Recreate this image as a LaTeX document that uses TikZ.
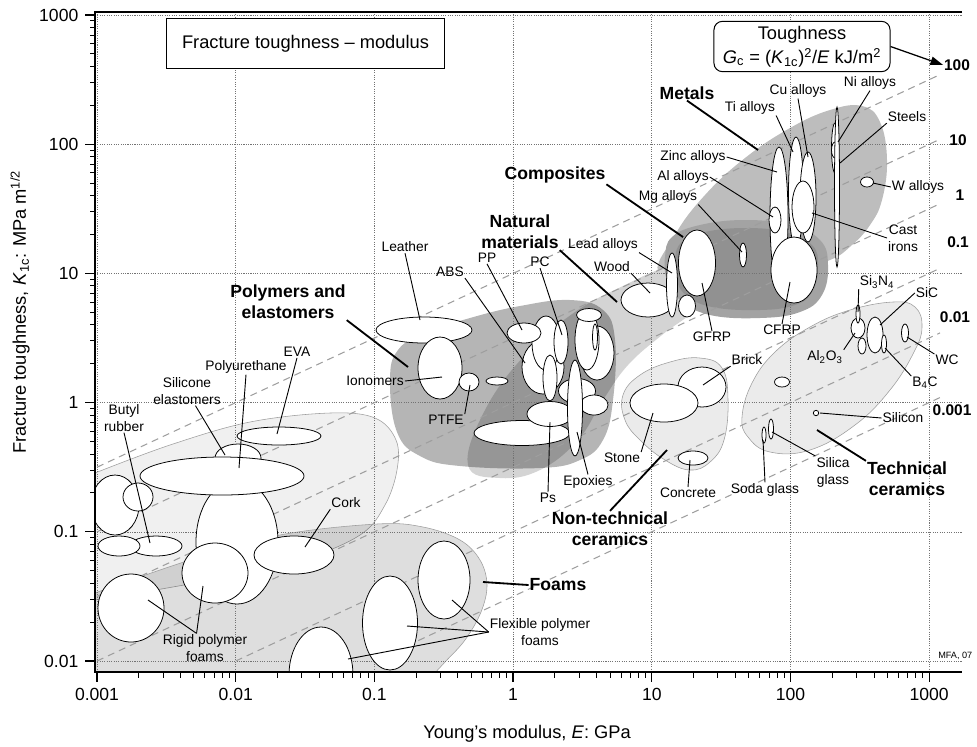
\documentclass[tikz,border=0pt]{standalone}
\usepackage{fontspec}
\setmainfont{Liberation Sans}
\usetikzlibrary{arrows.meta, positioning}
\definecolor{cElast}{gray}{0.94}
\definecolor{cMetal}{gray}{0.74}
\definecolor{cNat}{gray}{0.83}
\definecolor{cComp}{gray}{0.64}
\definecolor{cCompIn}{gray}{0.57}
\definecolor{cCeram}{gray}{0.92}
\definecolor{cEdge}{gray}{0.62}
\definecolor{cGrid}{gray}{0.45}
\definecolor{cGuide}{gray}{0.62}

\begin{document}
\begin{tikzpicture}[x=0.025cm, y=-0.025cm,
    bub/.style={draw=black, line width=0.55pt, fill=white},
    zone/.style={draw=cEdge, line width=0.4pt},
    lbl/.style={font=\fontsize{9.8}{12}\selectfont, inner sep=0.6pt, align=center},
    fam/.style={font=\fontsize{12.5}{15}\selectfont\bfseries, inner sep=0.6pt, align=center},
    gcl/.style={font=\fontsize{11}{13}\selectfont\bfseries, inner sep=0.5pt},
    tick/.style={font=\fontsize{12.5}{14}\selectfont, inner sep=1pt},
    lead/.style={line width=0.65pt},
    famlead/.style={line width=1.3pt},
    guide/.style={cGuide, line width=0.75pt, dash pattern=on 5pt off 3.6pt},
    gridl/.style={cGrid, line width=0.45pt, dash pattern=on 0.75pt off 0.9pt}]

\useasboundingbox (0,0) rectangle (977,746);

% material family envelopes
\begin{scope}
  \clip (95,12) rectangle (962,672);
  \path[zone, fill=cElast] plot[smooth, tension=0.6] coordinates {(95,473) (170,445) (250,422) (330,413) (375,418) (396,440) (397,470) (385,505) (360,535) (300,560) (200,582) (95,600)} -- cycle;
  \path[zone, fill=black, fill opacity=0.13] plot[smooth, tension=0.6] coordinates {(95,593) (190,560) (280,535) (377,524) (423,527) (460,540) (480,560) (487,585) (481,612) (465,640) (445,662) (432,676)} -- (95,676) -- cycle;
  \path[fill=cMetal] plot[smooth cycle, tension=0.7] coordinates {(660,275) (675,235) (705,195) (745,158) (790,128) (830,110) (862,106) (880,122) (887,160) (882,200) (870,225) (852,245) (830,260) (790,270) (720,280)};
  \path[fill=cNat] plot[smooth cycle, tension=0.7] coordinates {(468,465) (485,410) (525,355) (575,312) (625,285) (665,268) (702,264) (712,285) (695,310) (662,335) (628,365) (603,400) (578,440) (540,470) (500,478)};
  \path[fill=black, fill opacity=0.29] plot[smooth cycle, tension=0.7] coordinates {(390,380) (398,350) (425,333) (470,318) (520,306) (570,300) (603,310) (615,340) (613,400) (603,440) (580,460) (540,468) (460,466) (420,456) (397,432)};
  \path[fill=cComp] plot[smooth cycle, tension=0.7] coordinates {(665,257) (672,237) (700,225) (745,220) (790,225) (820,240) (828,265) (822,295) (800,312) (760,318) (710,315) (680,300) (667,280)};
  \path[fill=cCompIn] plot[smooth cycle, tension=0.7] coordinates {(675,258) (682,242) (705,232) (745,228) (785,232) (812,245) (818,266) (812,292) (795,305) (760,310) (712,307) (686,295) (676,278)};
  \path[zone, fill=cCeram] plot[smooth cycle, tension=0.7] coordinates {(623,395) (640,375) (670,362) (700,358) (722,368) (728,400) (724,440) (710,462) (690,470) (665,460) (640,440) (625,420)};
  \path[zone, fill=cCeram] plot[smooth cycle, tension=0.7] coordinates {(742,417) (752,383) (775,352) (810,327) (850,310) (893,302) (915,307) (922,327) (914,352) (890,390) (855,425) (810,450) (770,452) (748,437)};
\end{scope}

% grid
\foreach \i in {0,...,6}
  \draw[gridl] ({97+138.7*\i},12) -- ({97+138.7*\i},672);
\foreach \j in {0,...,5}
  \draw[gridl] (95,{661-129.2*\j}) -- (962,{661-129.2*\j});

% toughness guide lines G = K^2/E
\foreach \xa/\ya/\yb in {97/467.2/74.6, 97/531.8/139.2, 97/596.4/203.7, 97/661/268.3, 235.7/661/332.9, 374.4/661/397.5}
  \draw[guide] (\xa,\ya) -- (940,\yb);

% material bubbles
\begin{scope}
  \clip (95,12) rectangle (962,672);
  % elastomers and foams
  \path[bub] (115,505) ellipse [x radius=24, y radius=30];
  \path[bub] (138,497) ellipse [x radius=15, y radius=14];
  \path[bub] (156,546) ellipse [x radius=26, y radius=10];
  \path[bub] (119,546) ellipse [x radius=21, y radius=10];
  \path[bub] (237,542) ellipse [x radius=41, y radius=62];
  \path[bub] (238,458) ellipse [x radius=23, y radius=14];
  \path[bub] (222,476) ellipse [x radius=82, y radius=19];
  \path[bub] (279,436) ellipse [x radius=42, y radius=9];
  \path[bub] (215,573) ellipse [x radius=33, y radius=30];
  \path[bub] (294,555) ellipse [x radius=40, y radius=19];
  \path[bub] (131,608) ellipse [x radius=33, y radius=34];
  \path[bub] (444,580) ellipse [x radius=26, y radius=39];
  \path[bub] (390,623) ellipse [x radius=27.5, y radius=47];
  \path[bub] (321,675) ellipse [x radius=32, y radius=48];
  % polymers
  \path[bub] (424,330) ellipse [x radius=48, y radius=13];
  \path[bub] (440,368) ellipse [x radius=22, y radius=31];
  \path[bub] (469,382) ellipse [x radius=10, y radius=9];
  \path[bub] (497,381) ellipse [x radius=11, y radius=4];
  \path[bub] (543,367) ellipse [x radius=21, y radius=27];
  \path[bub] (597,353) ellipse [x radius=17, y radius=27];
  \path[bub] (546,343) ellipse [x radius=14, y radius=27];
  \path[bub] (561,342) ellipse [x radius=7, y radius=22];
  \path[bub] (587,340) ellipse [x radius=12, y radius=30];
  \path[bub] (589,315) ellipse [x radius=12.5, y radius=6.5];
  \path[bub] (595,337) ellipse [x radius=2.5, y radius=13];
  \path[bub] (550,378) ellipse [x radius=7, y radius=23];
  \path[bub] (577,391) ellipse [x radius=18.5, y radius=12.5];
  \path[bub] (594,405) ellipse [x radius=14, y radius=10];
  \path[bub] (522,433) ellipse [x radius=48, y radius=12.5];
  \path[bub] (550,414) ellipse [x radius=23, y radius=12.5];
  \path[bub] (575,408) ellipse [x radius=7.5, y radius=48];
  \path[bub] (524,333) ellipse [x radius=17, y radius=10];
  % natural materials and composites
  \path[bub] (648,300) ellipse [x radius=27, y radius=17];
  \path[bub] (672,285) ellipse [x radius=5.5, y radius=32];
  \path[bub] (687,306) ellipse [x radius=8.5, y radius=11];
  \path[bub] (697,263) ellipse [x radius=18.5, y radius=33];
  \path[bub] (743,255) ellipse [x radius=3.5, y radius=12];
  % metals
  \path[bub] (779,217) ellipse [x radius=9, y radius=70];
  \path[bub] (796,192) ellipse [x radius=7.5, y radius=55];
  \path[bub] (808,197) ellipse [x radius=8, y radius=45];
  \path[bub] (775,220) ellipse [x radius=6, y radius=13];
  \path[bub] (803,207) ellipse [x radius=11, y radius=26];
  \path[bub] (794,270) ellipse [x radius=23, y radius=33];
  \path[bub] (835,148) ellipse [x radius=3.5, y radius=25];
  \path[bub] (835,150) ellipse [x radius=3.5, y radius=8];
  \path[bub] (837,187) ellipse [x radius=2.5, y radius=80];
  \path[bub] (867,182) ellipse [x radius=6.5, y radius=5];
  % ceramics
  \path[bub] (702,387) ellipse [x radius=24, y radius=20];
  \path[bub] (664,403) ellipse [x radius=34, y radius=19];
  \path[bub] (693,458) ellipse [x radius=15, y radius=7];
  \path[bub] (782,382) ellipse [x radius=7.5, y radius=5];
  \path[bub] (816,413) circle [radius=2.7];
  \path[bub] (764,435) ellipse [x radius=2, y radius=8];
  \path[bub] (771,429) ellipse [x radius=2.5, y radius=10];
  \path[bub] (858,328) ellipse [x radius=7, y radius=10];
  \path[bub] (858,314) ellipse [x radius=2, y radius=9];
  \path[bub] (862,346) ellipse [x radius=4, y radius=8];
  \path[bub] (875,335) ellipse [x radius=8, y radius=18];
  \path[bub] (884,344) ellipse [x radius=2.5, y radius=9];
  \path[bub] (905,333) ellipse [x radius=3.5, y radius=9];
\end{scope}

% axes
\draw[line width=1.4pt] (962,12) -- (95,12) -- (95,672) -- (962,672);
\foreach \i in {0,...,6}
  \draw[line width=0.9pt] ({97+138.7*\i},672) -- ++(0,10);
\foreach \i in {0,...,5}
  \foreach \m in {2,...,9}
    \draw[line width=0.7pt] ({97+138.7*(\i+log10(\m))},672) -- ++(0,6);
\foreach \j in {0,...,5}
  \draw[line width=0.9pt] (95,{661-129.2*\j}) -- ++(-10,0);
\foreach \j in {0,...,4}
  \foreach \m in {2,...,9}
    \draw[line width=0.7pt] (95,{661-129.2*(\j+log10(\m))}) -- ++(-5,0);
\foreach \v [count=\i from 0] in {0.001,0.01,0.1,1,10,100,1000}
  \node[tick] (xt\i) at ({97+138.7*\i},694) {\v};
\foreach \v [count=\j from 0] in {0.01,0.1,1,10,100,1000}
  \node[tick, anchor=east] (yt\j) at (80,{661-129.2*\j}) {\v};
\node[font=\fontsize{13}{15}\selectfont] (xtitle) at (527,734) {Young’s modulus, \textit{E}: GPa};
\node[font=\fontsize{13}{15}\selectfont, rotate=90] (ytitle) at (20,312) {Fracture toughness, \textit{K}\textsubscript{1c}: MPa m\textsuperscript{1/2}};
\node[font=\fontsize{6.5}{8}\selectfont, anchor=east, inner sep=1pt] (mfa) at (974,656) {MFA, 07};

% title boxes
\node[draw, fill=white, line width=0.7pt, minimum width=6.93cm, minimum height=1.23cm, font=\fontsize{13}{15}\selectfont] (title) at (305.5,43.5) {Fracture toughness – modulus};
\node[draw, fill=white, line width=0.7pt, rounded corners=6pt, minimum width=4.4cm, minimum height=1.23cm, align=center, font=\fontsize{13}{17}\selectfont] (tough) at (802,46.5) {Toughness\\\textit{G}\textsubscript{c} = (\textit{K}\textsubscript{1c})\textsuperscript{2}/\textit{E} kJ/m\textsuperscript{2}};

% guide line values
\node[gcl] (g100) at (957,65) {100};
\node[gcl] (g10) at (958,140) {10};
\node[gcl] (g1) at (960,195) {1};
\node[gcl] (g01) at (958,242) {0.1};
\node[gcl] (g001) at (955,317) {0.01};
\node[gcl] (g0001) at (952,410) {0.001};
\draw[line width=0.9pt, -{Triangle[length=9pt, width=6pt]}] (tough.east) -- (g100.west);

% leader end points
\coordinate (p-poly) at (408,367);
\coordinate (p-metal) at (758,150);
\coordinate (p-comp) at (683,237);
\coordinate (p-nat) at (617,302);
\coordinate (p-foam) at (483,582);
\coordinate (p-ntc) at (667,450);
\coordinate (p-tc) at (817,430);
\coordinate (p-leather) at (420,320);
\coordinate (p-abs) at (525,363);
\coordinate (p-pp) at (522,330);
\coordinate (p-pc) at (562,335);
\coordinate (p-lead) at (672,273);
\coordinate (p-wood) at (650,293);
\coordinate (p-gfrp) at (702,283);
\coordinate (p-cfrp) at (790,282);
\coordinate (p-mg) at (742,252);
\coordinate (p-al) at (773,217);
\coordinate (p-zinc) at (777,172);
\coordinate (p-ti) at (793,152);
\coordinate (p-cu) at (808,157);
\coordinate (p-ni) at (838,142);
\coordinate (p-steel) at (840,163);
\coordinate (p-w) at (873,183);
\coordinate (p-cast) at (812,213);
\coordinate (p-sin) at (858,312);
\coordinate (p-sic) at (880,325);
\coordinate (p-alo) at (855,333);
\coordinate (p-bc) at (885,348);
\coordinate (p-wc) at (907,337);
\coordinate (p-si) at (820,413);
\coordinate (p-silica) at (772,432);
\coordinate (p-soda) at (763,440);
\coordinate (p-stone) at (653,413);
\coordinate (p-brick) at (703,385);
\coordinate (p-conc) at (690,460);
\coordinate (p-ps) at (550,422);
\coordinate (p-epoxy) at (577,432);
\coordinate (p-iono) at (442,377);
\coordinate (p-ptfe) at (470,385);
\coordinate (p-eva) at (277,434);
\coordinate (p-pu) at (239,468);
\coordinate (p-sil) at (225,455);
\coordinate (p-butyl) at (150,543);
\coordinate (p-cork) at (305,547);
\coordinate (p-rig1) at (148,600);
\coordinate (p-rig2) at (203,586);
\coordinate (p-flex1) at (452,600);
\coordinate (p-flex2) at (407,626);
\coordinate (p-flex3) at (348,659);

% family labels
\node[fam] (polyL) at (288,302) {Polymers and\\elastomers};
\node[fam] (metalL) at (687,93) {Metals};
\node[fam] (compL) at (555,175) {Composites};
\node[fam] (natL) at (520,232) {Natural\\materials};
\node[fam] (foamL) at (558,585) {Foams};
\node[fam] (ntcL) at (610,529) {Non-technical\\ceramics};
\node[fam] (tcL) at (907,479) {Technical\\ceramics};
\draw[famlead] (polyL.south east) -- (p-poly);
\draw[famlead] (metalL.south) -- (p-metal);
\draw[famlead] (compL.south east) -- (p-comp);
\draw[famlead] (natL.south east) -- (p-nat);
\draw[famlead] (foamL.west) -- (p-foam);
\draw[famlead] (ntcL.north) -- (p-ntc);
\draw[famlead] (tcL.north west) -- (p-tc);

% material labels
\node[lbl] (leatherL) at (405,247) {Leather};
\node[lbl] (absL) at (450,272) {ABS};
\node[lbl] (ppL) at (487,258) {PP};
\node[lbl] (pcL) at (540,262) {PC};
\node[lbl] (leadL) at (603,245) {Lead alloys};
\node[lbl] (woodL) at (612,267) {Wood};
\node[lbl] (gfrpL) at (712,337) {GFRP};
\node[lbl] (cfrpL) at (782,330) {CFRP};
\node[lbl] (mgL) at (668,197) {Mg alloys};
\node[lbl] (alL) at (683,177) {Al alloys};
\node[lbl] (zincL) at (693,157) {Zinc alloys};
\node[lbl] (tiL) at (750,108) {Ti alloys};
\node[lbl] (cuL) at (798,91) {Cu alloys};
\node[lbl] (niL) at (870,83) {Ni alloys};
\node[lbl] (steelL) at (907,117) {Steels};
\node[lbl] (wL) at (918,187) {W alloys};
\node[lbl, anchor=west] (castL) at (887,238) {Cast\\irons};
\node[lbl] (sinL) at (877,282) {Si\textsubscript{3}N\textsubscript{4}};
\node[lbl] (sicL) at (927,293) {SiC};
\node[lbl] (aloL) at (825,357) {Al\textsubscript{2}O\textsubscript{3}};
\node[lbl] (bcL) at (925,383) {B\textsubscript{4}C};
\node[lbl] (wcL) at (947,360) {WC};
\node[lbl] (siL) at (903,418) {Silicon};
\node[lbl] (silicaL) at (833,472) {Silica\\glass};
\node[lbl] (sodaL) at (765,490) {Soda glass};
\node[lbl] (stoneL) at (622,458) {Stone};
\node[lbl] (brickL) at (747,360) {Brick};
\node[lbl] (concL) at (688,493) {Concrete};
\node[lbl] (psL) at (548,498) {Ps};
\node[lbl] (epoxyL) at (588,482) {Epoxies};
\node[lbl] (ionoL) at (375,381) {Ionomers};
\node[lbl] (ptfeL) at (446,420) {PTFE};
\node[lbl] (evaL) at (297,352) {EVA};
\node[lbl] (puL) at (246,367) {Polyurethane};
\node[lbl] (silL) at (187,391) {Silicone\\elastomers};
\node[lbl] (butylL) at (124,418) {Butyl\\rubber};
\node[lbl] (corkL) at (346,503) {Cork};
\node[lbl] (rigL) at (205,648) {Rigid polymer\\foams};
\node[lbl] (flexL) at (540,632) {Flexible polymer\\foams};

\draw[lead] (leatherL.south) -- (p-leather);
\draw[lead] (absL.south east) -- (p-abs);
\draw[lead] (ppL.south) -- (p-pp);
\draw[lead] (pcL.south) -- (p-pc);
\draw[lead] (leadL.south east) -- (p-lead);
\draw[lead] (woodL.south east) -- (p-wood);
\draw[lead] (gfrpL.north) -- (p-gfrp);
\draw[lead] (cfrpL.north) -- (p-cfrp);
\draw[lead] (mgL.south east) -- (p-mg);
\draw[lead] (alL.east) -- (p-al);
\draw[lead] (zincL.east) -- (p-zinc);
\draw[lead] (tiL.south east) -- (p-ti);
\draw[lead] (cuL.south) -- (p-cu);
\draw[lead] (niL.south) -- (p-ni);
\draw[lead] (steelL.south west) -- (p-steel);
\draw[lead] (wL.west) -- (p-w);
\draw[lead] (castL.west) -- (p-cast);
\draw[lead] (sinL.south west) -- (p-sin);
\draw[lead] (sicL.west) -- (p-sic);
\draw[lead] (aloL.north east) -- (p-alo);
\draw[lead] (bcL.north west) -- (p-bc);
\draw[lead] (wcL.north west) -- (p-wc);
\draw[lead] (siL.west) -- (p-si);
\draw[lead] (silicaL.north west) -- (p-silica);
\draw[lead] (sodaL.north) -- (p-soda);
\draw[lead] (stoneL.north east) -- (p-stone);
\draw[lead] (brickL.south west) -- (p-brick);
\draw[lead] (concL.north) -- (p-conc);
\draw[lead] (psL.north) -- (p-ps);
\draw[lead] (epoxyL.north) -- (p-epoxy);
\draw[lead] (ionoL.east) -- (p-iono);
\draw[lead] (ptfeL.north east) -- (p-ptfe);
\draw[lead] (evaL.south) -- (p-eva);
\draw[lead] (puL.south) -- (p-pu);
\draw[lead] (silL.-60) -- (p-sil);
\draw[lead] (butylL.south) -- (p-butyl);
\draw[lead] (corkL.south west) -- (p-cork);
\draw[lead] (rigL.120) -- (p-rig1);
\draw[lead] (rigL.120) -- (p-rig2);
\draw[lead] (flexL.west) -- (p-flex1);
\draw[lead] (flexL.west) -- (p-flex2);
\draw[lead] (flexL.west) -- (p-flex3);
\end{tikzpicture}
\end{document}
